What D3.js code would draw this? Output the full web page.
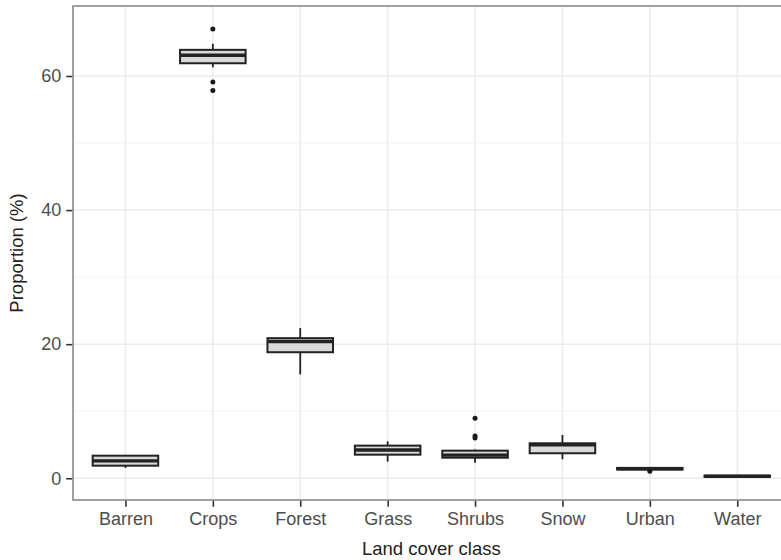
<!DOCTYPE html>
<html><head><meta charset="utf-8">
<script src="https://cdn.jsdelivr.net/npm/d3@7"></script>
<style>html,body{margin:0;padding:0;background:#fff;}svg{display:block;}</style>
</head><body>
<svg id="chart" width="781" height="560"></svg>
<script>
const categories = ["Barren","Crops","Forest","Grass","Shrubs","Snow","Urban","Water"];
const whiskerLow  = [1.55, 61.3, 15.5, 2.48, 2.33, 2.84, 1.12, 0.18];
const q1          = [1.88, 61.9, 18.8, 3.52, 3.07, 3.73, 1.32, 0.22];
const medians     = [2.60, 63.1, 20.4, 4.22, 3.45, 5.00, 1.42, 0.30];
const q3          = [3.37, 63.9, 20.9, 4.87, 4.12, 5.22, 1.55, 0.38];
const whiskerHigh = [3.45, 64.8, 22.4, 5.52, 4.30, 6.46, 1.62, 0.42];
const outliers    = [[], [67.0, 59.1, 57.85], [], [], [8.96, 6.3, 6.0], [], [1.05], []];
const yTicks = [0, 20, 40, 60];
const yMinor = [10, 30, 50];

const svg = d3.select("#chart");
const L = 73, R = 789.7, T = 6, B = 500;
const x = d3.scalePoint().domain(categories).range([L, R]).padding(0.6);
const y = d3.scaleLinear().domain([-3.24, 70.44]).range([B, T]);
const bw = x.step() * 0.75;

svg.append("defs").append("clipPath").attr("id","pc")
  .append("rect").attr("x",L).attr("y",T).attr("width",R-L).attr("height",B-T);
const panel = svg.append("g").attr("clip-path","url(#pc)");

panel.selectAll(".gmin").data(yMinor).join("line")
  .attr("x1",L).attr("x2",R).attr("y1",d=>y(d)).attr("y2",d=>y(d))
  .attr("stroke","#f2f2f2").attr("stroke-width",1);
panel.selectAll(".gmaj").data(yTicks).join("line")
  .attr("x1",L).attr("x2",R).attr("y1",d=>y(d)).attr("y2",d=>y(d))
  .attr("stroke","#ebebeb").attr("stroke-width",1.5);
panel.selectAll(".gx").data(categories).join("line")
  .attr("x1",d=>x(d)).attr("x2",d=>x(d)).attr("y1",T).attr("y2",B)
  .attr("stroke","#ebebeb").attr("stroke-width",1.5);

const idx = d3.range(categories.length);
const g = panel.append("g");
g.selectAll(".wl").data(idx).join("line")
  .attr("x1",i=>x(categories[i])).attr("x2",i=>x(categories[i]))
  .attr("y1",i=>y(whiskerLow[i])).attr("y2",i=>y(q1[i]))
  .attr("stroke","#222").attr("stroke-width",1.8);
g.selectAll(".wh").data(idx).join("line")
  .attr("x1",i=>x(categories[i])).attr("x2",i=>x(categories[i]))
  .attr("y1",i=>y(whiskerHigh[i])).attr("y2",i=>y(q3[i]))
  .attr("stroke","#222").attr("stroke-width",1.8);
g.selectAll(".box").data(idx).join("rect")
  .attr("x",i=>x(categories[i])-bw/2).attr("width",bw)
  .attr("y",i=>y(q3[i])).attr("height",i=>Math.max(0.5,y(q1[i])-y(q3[i])))
  .attr("fill","#d9d9d9").attr("stroke","#222").attr("stroke-width",2);
g.selectAll(".med").data(idx).join("line")
  .attr("x1",i=>x(categories[i])-bw/2).attr("x2",i=>x(categories[i])+bw/2)
  .attr("y1",i=>y(medians[i])).attr("y2",i=>y(medians[i]))
  .attr("stroke","#222").attr("stroke-width",3.4);
const pts = [];
outliers.forEach((arr,i)=>arr.forEach(v=>pts.push({c:categories[i],v})));
g.selectAll(".out").data(pts).join("circle")
  .attr("cx",d=>x(d.c)).attr("cy",d=>y(d.v)).attr("r",2.5).attr("fill","#1a1a1a");

svg.append("rect").attr("x",L).attr("y",T).attr("width",R-L).attr("height",B-T)
  .attr("fill","none").attr("stroke","#8a8a8a").attr("stroke-width",1.6);

const yAxis = d3.axisLeft(y).tickValues(yTicks).tickSize(6).tickPadding(5);
const ya = svg.append("g").attr("transform",`translate(${L-0.8},0)`).call(yAxis);
const xAxis = d3.axisBottom(x).tickSize(6).tickPadding(5);
const xa = svg.append("g").attr("transform",`translate(0,${B+0.8})`).call(xAxis);
[ya,xa].forEach(a=>{
  a.select(".domain").remove();
  a.selectAll(".tick line").attr("stroke","#333").attr("stroke-width",1.6);
  a.selectAll(".tick text").attr("fill","#4d4d4d")
    .style("font-family","'Liberation Sans', Arial, sans-serif").style("font-size","18px");
});

svg.append("text").attr("x",(L+R)/2).attr("y",555).attr("text-anchor","middle")
  .style("font-family","'Liberation Sans', Arial, sans-serif").style("font-size","18.5px")
  .attr("fill","#222").text("Land cover class");
svg.append("text").attr("transform",`translate(23,${(T+B)/2}) rotate(-90)`).attr("text-anchor","middle")
  .style("font-family","'Liberation Sans', Arial, sans-serif").style("font-size","18.5px")
  .attr("fill","#222").text("Proportion (%)");
</script>
</body></html>
